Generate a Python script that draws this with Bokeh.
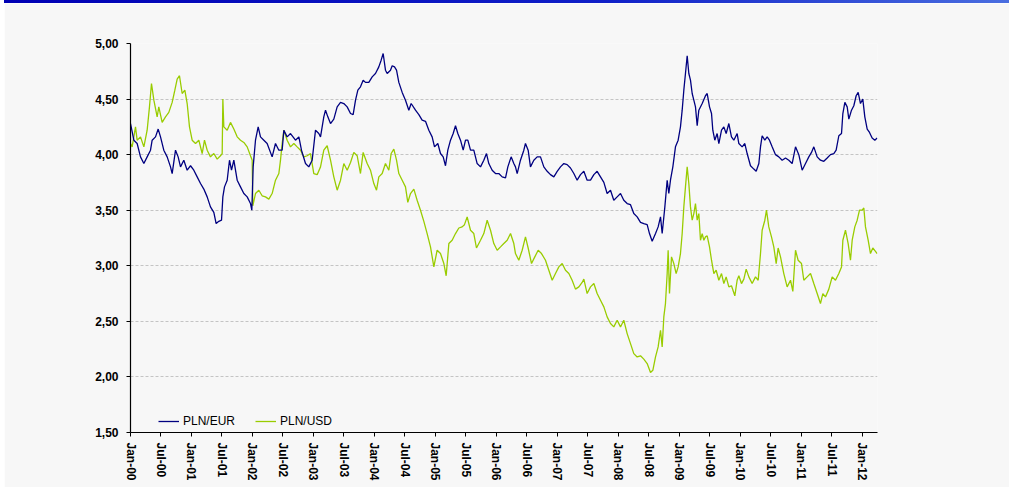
from bokeh.plotting import figure
from bokeh.models import FixedTicker, Legend, LegendItem, Div, Range1d
from bokeh.layouts import column
from bokeh.embed import file_html
from bokeh.resources import INLINE

# Years since Jan 2000 (decimal) and exchange-rate values
eur_t = [0.000, 0.055, 0.109, 0.164, 0.219, 0.273, 0.328, 0.355, 0.410, 0.454, 0.492, 0.546, 0.601, 0.656, 0.683,
         0.738, 0.781, 0.820, 0.874, 0.929, 0.984, 1.038, 1.093, 1.148, 1.202, 1.257, 1.311, 1.366, 1.404, 1.448,
         1.492, 1.514, 1.541, 1.585, 1.623, 1.656, 1.694, 1.749, 1.803, 1.858, 1.913, 1.967, 1.989, 2.011, 2.049,
         2.093, 2.131, 2.186, 2.240, 2.322, 2.377, 2.432, 2.486, 2.514, 2.568, 2.623, 2.705, 2.760, 2.803, 2.869,
         2.923, 2.978, 3.033, 3.087,
         3.115, 3.169, 3.197, 3.235, 3.279, 3.333, 3.388, 3.443, 3.497, 3.552, 3.607, 3.650, 3.689, 3.727, 3.770,
         3.814, 3.852, 3.907, 3.962, 4.016, 4.071, 4.109, 4.142, 4.180, 4.208, 4.262, 4.290, 4.328, 4.361, 4.399,
         4.454, 4.508, 4.563, 4.601, 4.672, 4.727, 4.781, 4.836, 4.891, 4.945, 4.984, 5.038, 5.082, 5.126, 5.164,
         5.202, 5.246, 5.290, 5.328, 5.366, 5.410, 5.454, 5.492, 5.530, 5.574, 5.628, 5.683, 5.738, 5.792, 5.836,
         5.874, 5.929, 5.984, 6.038, 6.093, 6.148, 6.186, 6.240, 6.284,
         6.311, 6.339, 6.393, 6.448, 6.475, 6.519, 6.557, 6.612, 6.667, 6.721, 6.776, 6.831, 6.885, 6.940, 6.995,
         7.049, 7.104, 7.158, 7.213, 7.268, 7.322, 7.377, 7.432, 7.486, 7.541, 7.596, 7.650, 7.705, 7.760, 7.814,
         7.869, 7.923, 7.978, 8.033, 8.087, 8.142, 8.197, 8.251, 8.306, 8.361, 8.415, 8.470, 8.508, 8.552, 8.607,
         8.650, 8.689, 8.716, 8.760, 8.798, 8.825, 8.852, 8.891, 8.934, 8.978, 9.016, 9.044, 9.071, 9.098, 9.126,
         9.153, 9.180, 9.208, 9.235, 9.262, 9.290, 9.317, 9.372,
         9.426, 9.454, 9.492, 9.525, 9.546, 9.579, 9.617, 9.645, 9.689, 9.727, 9.765, 9.809, 9.852, 9.891, 9.945,
         9.973, 10.027, 10.071, 10.109, 10.164, 10.219, 10.257, 10.301, 10.328, 10.355, 10.399, 10.437, 10.475,
         10.519, 10.574, 10.628, 10.683, 10.738, 10.792, 10.847, 10.902, 10.956, 11.011, 11.066, 11.120, 11.164,
         11.202, 11.257, 11.311, 11.366, 11.421, 11.475, 11.530, 11.568, 11.612, 11.656, 11.678, 11.711, 11.749,
         11.776, 11.820, 11.858, 11.896, 11.929, 11.967, 12.005, 12.038, 12.077, 12.115, 12.158, 12.202, 12.240]
eur_v = [4.28, 4.13, 4.10, 3.98, 3.92, 3.98, 4.04, 4.13, 4.16, 4.23, 4.16, 4.04, 3.98, 3.89, 3.83,
         4.04, 3.98, 3.89, 3.95, 3.86, 3.90, 3.86, 3.80, 3.74, 3.69, 3.62, 3.53, 3.48, 3.38, 3.40,
         3.41, 3.62, 3.71, 3.77, 3.95, 3.86, 3.95, 3.77, 3.71, 3.65, 3.62, 3.56, 3.50, 3.89, 4.13,
         4.25, 4.16, 4.13, 4.10, 3.98, 4.10, 4.04, 4.04, 4.22, 4.16, 4.19, 4.13, 4.16, 4.04, 3.92,
         3.89, 3.95, 4.22, 4.19,
         4.16, 4.34, 4.40, 4.34, 4.28, 4.32, 4.43, 4.47, 4.46, 4.43, 4.37, 4.36, 4.49, 4.58, 4.61,
         4.67, 4.65, 4.65, 4.70, 4.73, 4.79, 4.85, 4.91, 4.76, 4.73, 4.76, 4.80, 4.79, 4.76, 4.65,
         4.56, 4.49, 4.40, 4.46, 4.40, 4.36, 4.31, 4.30, 4.22, 4.16, 4.07, 4.10, 4.01, 3.98, 3.90,
         4.04, 4.13, 4.19, 4.26, 4.19, 4.13, 4.04, 4.13, 4.13, 4.04, 4.04, 3.92, 3.89, 3.95, 4.01,
         3.92, 3.86, 3.83, 3.83, 3.80, 3.79, 3.89, 3.98, 3.92,
         3.89, 3.83, 3.95, 4.04, 4.10, 4.04, 3.89, 3.95, 3.98, 3.98, 3.89, 3.85, 3.82, 3.80, 3.85,
         3.89, 3.92, 3.91, 3.88, 3.83, 3.77, 3.82, 3.85, 3.77, 3.77, 3.82, 3.85, 3.80, 3.75, 3.65,
         3.68, 3.59, 3.62, 3.65, 3.59, 3.56, 3.55, 3.47, 3.44, 3.39, 3.38, 3.37, 3.29, 3.22, 3.29,
         3.35, 3.44, 3.29, 3.53, 3.77, 3.65, 3.77, 3.89, 4.07, 4.13, 4.25, 4.40, 4.58, 4.73, 4.89,
         4.73, 4.67, 4.55, 4.49, 4.43, 4.26, 4.40, 4.46,
         4.53, 4.55, 4.43, 4.37, 4.22, 4.13, 4.19, 4.10, 4.22, 4.25, 4.19, 4.28, 4.16, 4.13, 4.19,
         4.10, 4.07, 4.10, 4.01, 3.90, 3.87, 3.85, 3.92, 4.07, 4.17, 4.13, 4.16, 4.13,
         4.07, 4.00, 3.98, 3.95, 3.97, 3.95, 3.92, 4.07, 4.00, 3.86, 3.92, 3.98, 4.02,
         4.07, 3.98, 3.95, 3.94, 3.97, 4.00, 4.01, 4.04, 4.17, 4.19, 4.37, 4.47, 4.43,
         4.32, 4.40, 4.44, 4.53, 4.56, 4.46, 4.50, 4.34, 4.23, 4.20, 4.15, 4.13, 4.15]

usd_t = [0.000, 0.027, 0.055, 0.082, 0.109, 0.164, 0.219, 0.273, 0.311, 0.344, 0.383, 0.437, 0.464, 0.519, 0.574,
         0.628, 0.683, 0.727, 0.765, 0.803, 0.847, 0.891, 0.929, 0.967, 1.011, 1.066, 1.120, 1.175, 1.213, 1.257,
         1.311, 1.366, 1.421, 1.475, 1.503, 1.514, 1.530, 1.585, 1.639, 1.694, 1.749, 1.803, 1.858, 1.913, 1.967,
         1.995, 2.005, 2.049, 2.104, 2.158, 2.213, 2.268, 2.322, 2.377, 2.432, 2.459, 2.486, 2.514, 2.568, 2.623,
         2.678, 2.732, 2.787, 2.842, 2.896, 2.951, 3.005, 3.060,
         3.115, 3.169, 3.224, 3.279, 3.333, 3.388, 3.443, 3.497, 3.552, 3.607, 3.661, 3.716, 3.770, 3.814, 3.880,
         3.934, 3.989, 4.033, 4.071, 4.126, 4.180, 4.235, 4.273, 4.317, 4.361, 4.399, 4.454, 4.508, 4.546, 4.590,
         4.645, 4.699, 4.754, 4.809, 4.863, 4.918, 4.973, 5.027, 5.082, 5.137, 5.175, 5.219, 5.273, 5.328, 5.383,
         5.437, 5.475, 5.519, 5.574, 5.628, 5.672, 5.738, 5.792, 5.847, 5.902, 5.956, 6.011, 6.066, 6.120, 6.175,
         6.230, 6.284,
         6.311, 6.366, 6.421, 6.475, 6.519, 6.574, 6.628, 6.683, 6.738, 6.803, 6.858, 6.913, 6.967, 7.022, 7.077,
         7.131, 7.186, 7.240, 7.295, 7.350, 7.404, 7.432, 7.486, 7.541, 7.596, 7.650, 7.705, 7.760, 7.814, 7.869,
         7.923, 7.978, 8.033, 8.087, 8.142, 8.197, 8.251, 8.306, 8.361, 8.415, 8.470, 8.525, 8.563, 8.607, 8.650,
         8.689, 8.716, 8.743, 8.770, 8.798, 8.814, 8.836, 8.869, 8.907, 8.945, 8.978, 9.016, 9.044, 9.071, 9.098,
         9.126, 9.153, 9.180, 9.208, 9.235, 9.262, 9.290, 9.317, 9.344, 9.372, 9.399,
         9.426, 9.454, 9.492, 9.525, 9.563, 9.601, 9.645, 9.689, 9.727, 9.765, 9.809, 9.852, 9.907, 9.945, 9.973,
         10.016, 10.055, 10.093, 10.137, 10.191, 10.246, 10.290, 10.328, 10.355, 10.399, 10.426, 10.464, 10.508,
         10.546, 10.585, 10.617, 10.656, 10.710, 10.765, 10.820, 10.858, 10.902, 10.945, 11.000, 11.038, 11.093,
         11.148, 11.202, 11.257, 11.311, 11.350, 11.393, 11.448, 11.503, 11.557, 11.612, 11.656, 11.678, 11.721,
         11.765, 11.803, 11.831, 11.874, 11.913, 11.951, 11.995, 12.022, 12.049, 12.093, 12.131, 12.169, 12.213,
         12.240]
usd_v = [4.10, 4.07, 4.16, 4.25, 4.13, 4.16, 4.07, 4.22, 4.43, 4.64, 4.49, 4.34, 4.43, 4.29, 4.34,
         4.38, 4.47, 4.58, 4.68, 4.71, 4.55, 4.58, 4.46, 4.25, 4.13, 4.10, 4.13, 4.01, 4.13, 4.04,
         3.98, 4.01, 3.96, 3.99, 4.01, 4.50, 4.25, 4.22, 4.29, 4.23, 4.16, 4.13, 4.11, 4.07, 3.99,
         3.95, 3.54, 3.65, 3.68, 3.63, 3.62, 3.60, 3.65, 3.77, 3.83, 3.95, 4.10, 4.22, 4.13, 4.07,
         4.10, 4.07, 4.04, 3.98, 3.99, 4.01, 3.83, 3.82,
         3.89, 4.04, 4.08, 3.95, 3.80, 3.68, 3.77, 3.92, 3.86, 3.93, 4.02, 3.99, 3.83, 4.02, 3.92,
         3.86, 3.74, 3.68, 3.80, 3.83, 3.92, 3.86, 4.01, 4.05, 3.95, 3.83, 3.77, 3.71, 3.57, 3.65,
         3.69, 3.59, 3.50, 3.40, 3.29, 3.17, 2.99, 3.14, 3.11, 3.02, 2.91, 3.20, 3.23, 3.29, 3.34,
         3.35, 3.37, 3.44, 3.32, 3.29, 3.16, 3.23, 3.29, 3.41, 3.32, 3.20, 3.14, 3.17, 3.20, 3.23,
         3.29, 3.20,
         3.11, 3.05, 3.14, 3.26, 3.16, 3.02, 3.08, 3.14, 3.11, 3.05, 2.96, 2.87, 2.93, 2.99, 3.02,
         2.96, 2.93, 2.87, 2.79, 2.81, 2.85, 2.88, 2.75, 2.81, 2.84, 2.75, 2.69, 2.63, 2.54, 2.48,
         2.45, 2.51, 2.45, 2.51, 2.39, 2.30, 2.21, 2.18, 2.19, 2.16, 2.12, 2.04, 2.06, 2.18, 2.27,
         2.42, 2.27, 2.54, 2.66, 2.93, 3.14, 2.75, 3.08, 3.02, 2.93, 2.99, 3.11, 3.29, 3.53, 3.71,
         3.89, 3.74, 3.53, 3.41, 3.47, 3.56, 3.41, 3.47, 3.23, 3.29, 3.23,
         3.26, 3.27, 3.17, 3.05, 2.93, 2.96, 2.87, 2.93, 2.84, 2.90, 2.81, 2.82, 2.73, 2.87, 2.91,
         2.84, 2.88, 2.97, 2.90, 2.84, 2.90, 2.87, 3.11, 3.32, 3.41, 3.50, 3.35, 3.26,
         3.17, 3.02, 3.16, 3.08, 2.93, 2.81, 2.87, 2.77, 3.14, 3.05, 3.02, 2.87, 2.90,
         2.93, 2.84, 2.75, 2.66, 2.75, 2.72, 2.79, 2.90, 2.87, 2.93, 2.99, 3.23, 3.32,
         3.20, 3.05, 3.23, 3.35, 3.41, 3.50, 3.50, 3.52, 3.35, 3.23, 3.11, 3.16, 3.13,
         3.11]

x_tick_years = [2000.0, 2000.5, 2001.0, 2001.5, 2002.0, 2002.5, 2003.0, 2003.5, 2004.0, 2004.5,
                2005.0, 2005.5, 2006.0, 2006.5, 2007.0, 2007.5, 2008.0, 2008.5, 2009.0, 2009.5,
                2010.0, 2010.5, 2011.0, 2011.5, 2012.0]
x_tick_labels = ["Jan-00", "Jul-00", "Jan-01", "Jul-01", "Jan-02", "Jul-02", "Jan-03", "Jul-03", "Jan-04",
                 "Jul-04", "Jan-05", "Jul-05", "Jan-06", "Jul-06", "Jan-07", "Jul-07", "Jan-08", "Jul-08",
                 "Jan-09", "Jul-09", "Jan-10", "Jul-10", "Jan-11", "Jul-11", "Jan-12"]
y_ticks = [1.5, 2.0, 2.5, 3.0, 3.5, 4.0, 4.5, 5.0]
y_tick_labels = ["1,50", "2,00", "2,50", "3,00", "3,50", "4,00", "4,50", "5,00"]

BG = "#f7f7f7"
FONT = "Liberation Sans"

bar = Div(text="", width=1005, height=3, margin=(0, 0, 0, 4),
          styles={"background": "linear-gradient(90deg, #0000b4 0%, #1020c8 60%, #4a6ee0 100%)"})

p = figure(width=1005, height=484, output_backend="svg", toolbar_location=None,
           x_range=Range1d(2000.0, 2012.246), y_range=Range1d(1.5, 5.0),
           min_border_left=126, min_border_right=132, min_border_top=40, min_border_bottom=55,
           background_fill_color=BG, border_fill_color=BG, outline_line_color=None,
           margin=(0, 0, 0, 4))

eur_x = [2000 + t for t in eur_t]
usd_x = [2000 + t for t in usd_t]
r_usd = p.line(usd_x, usd_v, line_color="#99cc00", line_width=1.3)
r_eur = p.line(eur_x, eur_v, line_color="#000080", line_width=1.3)

p.xgrid.visible = False
p.ygrid.ticker = FixedTicker(ticks=y_ticks)
p.ygrid.grid_line_color = "#c4c4c4"
p.ygrid.grid_line_dash = "3 2"
p.ygrid.grid_line_width = 1

xa = p.xaxis[0]
xa.ticker = FixedTicker(ticks=x_tick_years)
xa.major_label_overrides = {t: l for t, l in zip(x_tick_years, x_tick_labels)}
xa.major_label_orientation = "vertical"
xa.major_label_text_font = FONT
xa.major_label_text_font_style = "bold"
xa.major_label_text_font_size = "12px"
xa.major_label_text_color = "#000000"
xa.major_label_standoff = 6
xa.major_tick_out = 4
xa.major_tick_in = 0
xa.minor_tick_line_color = None
xa.axis_line_color = "#000000"
xa.axis_line_width = 1.2
xa.major_tick_line_color = "#000000"

ya = p.yaxis[0]
ya.ticker = FixedTicker(ticks=y_ticks)
ya.major_label_overrides = {t: l for t, l in zip(y_ticks, y_tick_labels)}
ya.major_label_text_font = FONT
ya.major_label_text_font_style = "bold"
ya.major_label_text_font_size = "12px"
ya.major_label_text_color = "#000000"
ya.major_label_standoff = 8
ya.major_tick_out = 4
ya.major_tick_in = 0
ya.minor_tick_line_color = None
ya.axis_line_color = "#000000"
ya.axis_line_width = 1.2
ya.major_tick_line_color = "#000000"

legend = Legend(items=[LegendItem(label="PLN/EUR", renderers=[r_eur]),
                       LegendItem(label="PLN/USD", renderers=[r_usd])],
                orientation="horizontal", location=(28, 1), padding=0, margin=0,
                spacing=20, glyph_width=21, glyph_height=20, label_height=20, label_standoff=4,
                label_text_font=FONT, label_text_font_size="12px", label_text_color="#000000",
                background_fill_alpha=0, border_line_color=None)
p.add_layout(legend)

layout = column(bar, p, spacing=0, margin=0)
open("out.html", "w").write(file_html(layout, INLINE))
